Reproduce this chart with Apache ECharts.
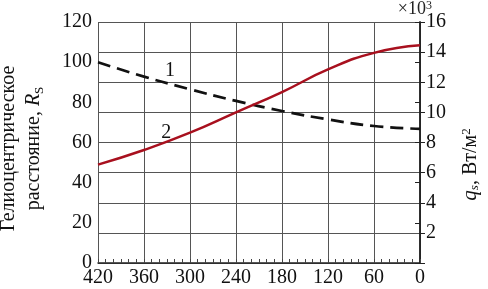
<!DOCTYPE html>
<html>
<head>
<meta charset="utf-8">
<script src="https://cdn.jsdelivr.net/npm/echarts@6/dist/echarts.min.js"></script>
<style>
  html, body { margin: 0; padding: 0; background: #fff; }
  #chart { width: 488px; height: 289px; }
</style>
</head>
<body>
<div id="chart"></div>
<script>
    'use strict'

    // time before perihelion, days (axis runs 420 -> 0)
    var days = [420, 360, 300, 240, 180, 120, 60, 0];
    // curve 1: heliocentric distance R_s (left axis)
    var distance = [100, 92.8, 86.5, 80.7, 75.7, 71.5, 68.2, 66.8];
    // curve 2: solar flux q_s, x10^3 W/m^2 (right axis)
    var flux = [6.53, 7.5, 8.65, 10.0, 11.35, 12.85, 13.95, 14.45];

    var leftTicks = { min: 0, max: 120, interval: 20 };
    var rightTicks = { min: 0, max: 16, interval: 2 };
    var xTicks = { min: 0, max: 420, interval: 60 };

    var serif = 'Liberation Serif';

    function pairs(xs, ys) {
        return xs.map(function(x, i) { return [x, ys[i]]; });
    }

    var chart = echarts.init(document.getElementById('chart'), null, { renderer: 'canvas' });

    chart.setOption({
        animation: false,
        backgroundColor: '#fff',
        grid: { left: 98, right: 68, top: 22, bottom: 26, containLabel: false, outerBoundsMode: 'none' },
        textStyle: { fontFamily: serif },
        xAxis: {
            type: 'value',
            inverse: true,
            min: xTicks.min,
            max: xTicks.max,
            interval: xTicks.interval,
            axisLine: { lineStyle: { color: '#222', width: 1.5 } },
            axisTick: { show: true, inside: true, length: 4, lineStyle: { color: '#444' } },
            minorTick: { show: true, splitNumber: 6, length: 4, lineStyle: { color: '#444' } },
            axisLabel: { color: '#111', fontSize: 20, fontFamily: serif, margin: 5 },
            splitLine: { show: true, lineStyle: { color: '#555', width: 1 } }
        },
        yAxis: [{
            type: 'value',
            min: leftTicks.min,
            max: leftTicks.max,
            interval: leftTicks.interval,
            position: 'left',
            axisLine: { show: true, lineStyle: { color: '#222', width: 1.5 } },
            axisTick: { show: true, length: 5, lineStyle: { color: '#222' } },
            axisLabel: { color: '#111', fontSize: 20, fontFamily: serif, margin: 6 },
            splitLine: { show: false },
            name: '{a|Гелиоцентрическое}\n{a|расстояние, }{i|R}{s|S}',
            nameLocation: 'middle',
            nameRotate: 90,
            nameGap: 52,
            nameTextStyle: {
                padding: [0, 12, 0, 0],
                rich: {
                    a: { fontSize: 20, fontFamily: serif, color: '#111', lineHeight: 25 },
                    i: { fontSize: 20, fontFamily: serif, fontStyle: 'italic', color: '#111', lineHeight: 25 },
                    s: { fontSize: 13, fontFamily: serif, color: '#111', verticalAlign: 'bottom', lineHeight: 25 }
                }
            }
        }, {
            type: 'value',
            min: rightTicks.min,
            max: rightTicks.max,
            interval: rightTicks.interval,
            position: 'right',
            axisLine: { show: true, lineStyle: { color: '#222', width: 1.5 } },
            axisTick: { show: true, length: 5, lineStyle: { color: '#222' } },
            axisLabel: {
                color: '#111', fontSize: 20, fontFamily: serif, margin: 6,
                formatter: function(v) { return v === 0 ? '' : String(v); }
            },
            splitLine: { show: true, lineStyle: { color: '#555', width: 1 } },
            name: '{i|q}{s|s}{a|, Вт/м}{p|2}',
            nameLocation: 'middle',
            nameRotate: 90,
            nameGap: 40,
            nameTextStyle: {
                padding: [0, 44, 0, 0],
                rich: {
                    a: { fontSize: 20, fontFamily: serif, color: '#111' },
                    i: { fontSize: 21, fontFamily: serif, fontStyle: 'italic', color: '#111' },
                    s: { fontSize: 13, fontFamily: serif, fontStyle: 'italic', color: '#111', verticalAlign: 'bottom' },
                    p: { fontSize: 13, fontFamily: serif, color: '#111', verticalAlign: 'top' }
                }
            }
        }],
        graphic: [{
            type: 'text',
            right: 56,
            top: 0,
            style: {
                text: '×10{p|3}',
                fontSize: 18,
                fontFamily: serif,
                fill: '#222',
                rich: { p: { fontSize: 12, fontFamily: serif, verticalAlign: 'top', fill: '#222' } }
            }
        }],
        series: [{
            name: '1',
            type: 'line',
            yAxisIndex: 0,
            smooth: true,
            symbol: 'none',
            data: pairs(days, distance),
            lineStyle: { color: '#111', width: 2.7, type: [13, 7] },
            markPoint: {
                symbol: 'circle',
                symbolSize: 0,
                label: { show: true, formatter: '1', fontSize: 20, fontFamily: serif, color: '#111' },
                data: [{ coord: [326, 95.5] }]
            }
        }, {
            name: '2',
            type: 'line',
            yAxisIndex: 1,
            smooth: true,
            symbol: 'none',
            data: pairs(days, flux),
            lineStyle: { color: '#a8101e', width: 2.5 },
            markPoint: {
                symbol: 'circle',
                symbolSize: 0,
                label: { show: true, formatter: '2', fontSize: 20, fontFamily: serif, color: '#111' },
                data: [{ coord: [331, 8.67] }]
            }
        }]
    });
</script>
</body>
</html>
